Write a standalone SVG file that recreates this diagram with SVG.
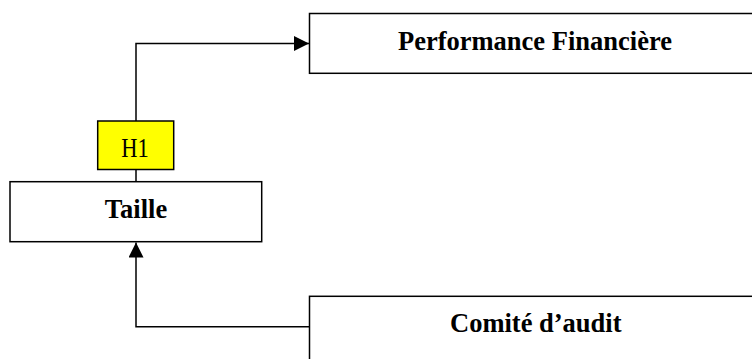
<svg xmlns="http://www.w3.org/2000/svg" width="752" height="359" viewBox="0 0 752 359">
<style>
.box{fill:#ffffff;stroke:#000000;stroke-width:1.5}
.lbl{font-family:"Liberation Serif","Times New Roman",serif;font-weight:bold;font-size:26.5px;fill:#000000}
.conn{fill:none;stroke:#000000;stroke-width:1.5}
.h{fill:#ffff00;stroke:#000000;stroke-width:1.5}
.ht{font-family:"Liberation Serif","Times New Roman",serif;font-size:22.5px;fill:#000000}
</style>
<defs>
<marker id="arr" markerUnits="userSpaceOnUse" markerWidth="16" markerHeight="16" refX="15" refY="7.5" orient="auto">
<path d="M0,0 L15,7.5 L0,15 Z" fill="#000000"/>
</marker>
</defs>
<rect width="752" height="359" fill="#ffffff"/>
<g id="connectors">
<path class="conn" d="M136,182 V43.5 H309" marker-end="url(#arr)"/>
<path class="conn" d="M309.5,326.7 H136 V242.5" marker-end="url(#arr)"/>
</g>
<g id="perf">
<rect class="box" x="309.5" y="13.5" width="470" height="59.8"/>
<text class="lbl" x="398" y="49.5">Performance Financière</text>
</g>
<g id="taille">
<rect class="box" x="10" y="181.7" width="251.7" height="60"/>
<text class="lbl" x="136" y="217.7" text-anchor="middle">Taille</text>
</g>
<g id="comite">
<rect class="box" x="309.5" y="296.3" width="470" height="90"/>
<text class="lbl" x="450" y="331.7">Comité d’audit</text>
</g>
<g id="h1">
<rect class="h" x="97.7" y="121" width="76" height="48.5"/>
<text class="ht" transform="translate(135,157) scale(1,1.2)" text-anchor="middle">H1</text>
</g>
</svg>
